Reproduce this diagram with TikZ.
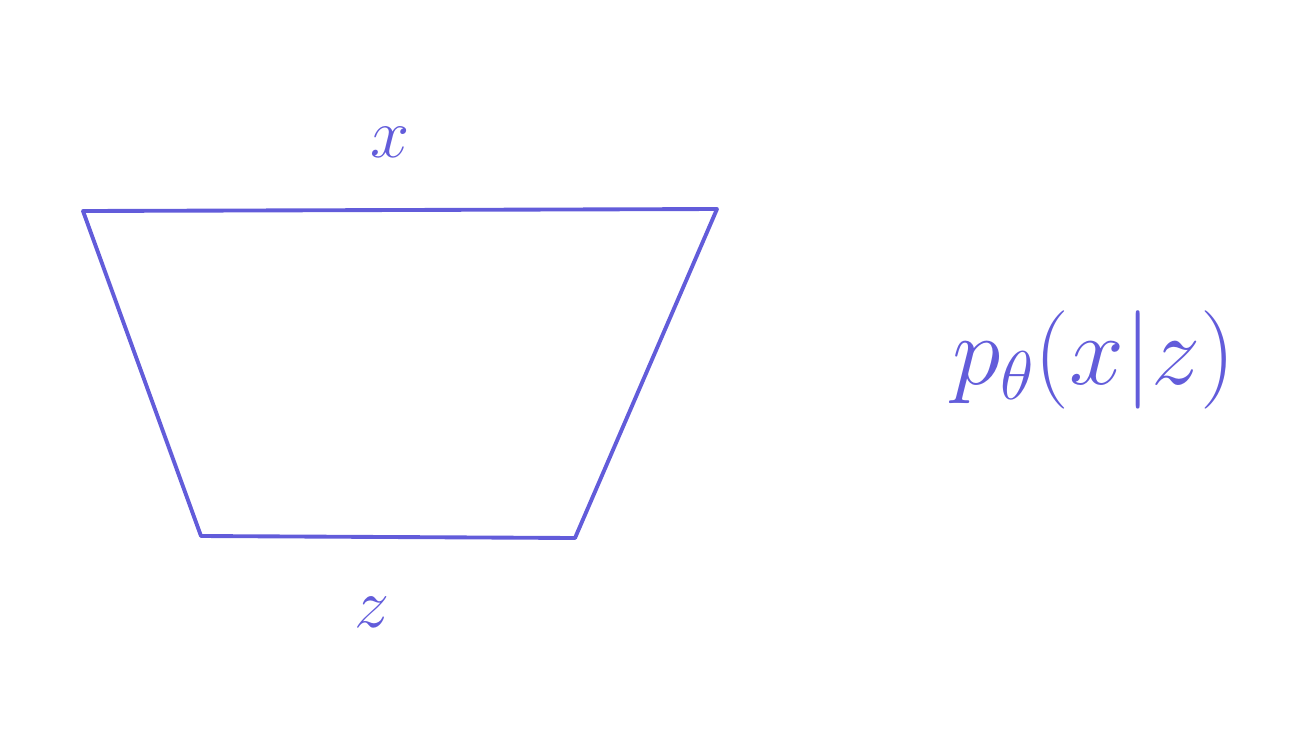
\documentclass[tikz,border=0pt]{standalone}
\usepackage{fix-cm}
\usetikzlibrary{calc}
\definecolor{pen}{RGB}{98,92,218}
\tikzset{
    hand/.style={draw=pen, line width=2.2pt, line join=round, line cap=round},
    lbl/.style={text=pen, inner sep=0pt, font=\fontsize{40}{48}\selectfont}
}
\begin{document}
\begin{tikzpicture}[x=0.02cm, y=-0.02cm]
    \useasboundingbox (0,0) rectangle (1313,752);

        \coordinate (TL) at (83,211);
        \coordinate (TR) at (717,209);
        \coordinate (BR) at (575,538);
        \coordinate (BL) at (201,536);
        \draw[hand] (TL) -- (TR) -- (BR) -- (BL) -- cycle;

        \node[lbl] (x) at (390,142) {$x$};
        \node[lbl] (z) at (372,612) {$z$};
        \node[lbl, font=\fontsize{56}{64}\selectfont] (pxz) at (1094,360) {$p_\theta(x|z)$};

    \end{tikzpicture}
\end{document}
